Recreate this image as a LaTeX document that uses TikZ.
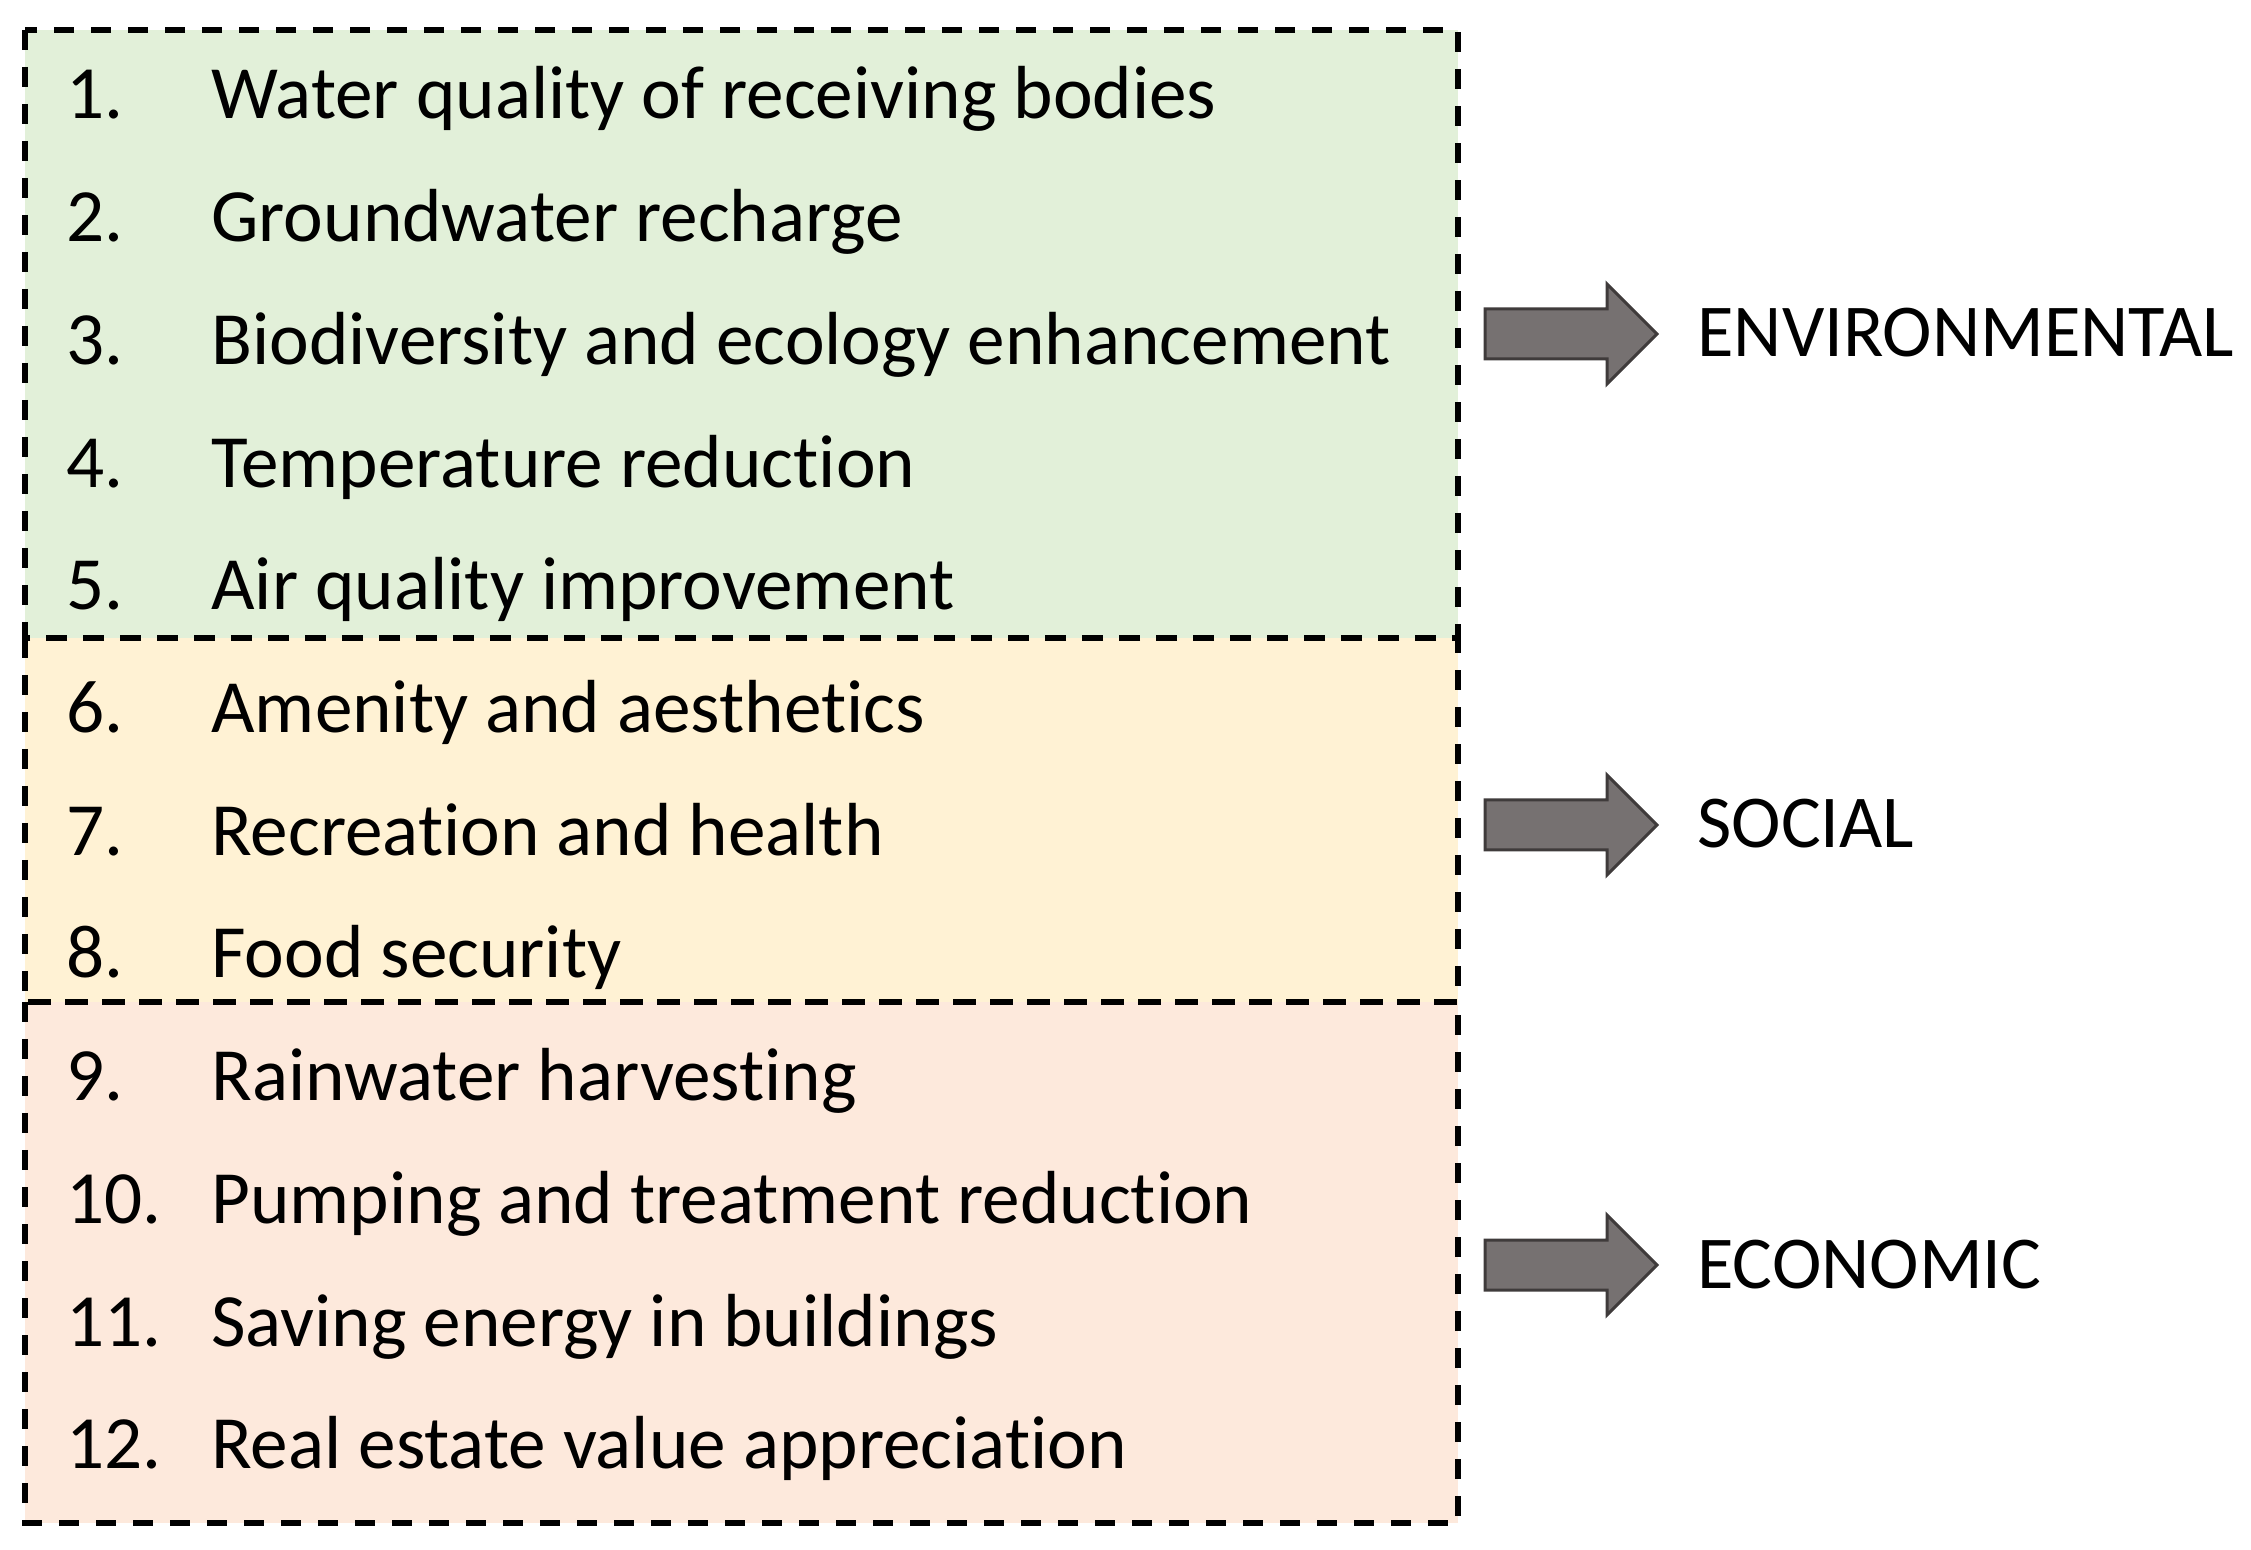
\documentclass[tikz,border=0pt]{standalone}
\usepackage{fontspec}
\setmainfont{Carlito}[Ligatures=NoCommon]
\definecolor{envfill}{HTML}{E2F0D9}
\definecolor{socfill}{HTML}{FFF2D4}
\definecolor{ecofill}{HTML}{FDE9DC}
\definecolor{arrfill}{HTML}{767171}
\definecolor{arrdraw}{HTML}{3F3B3B}
\tikzset{
  dashbox/.style={draw=black, line width=2.7pt, dash pattern=on 10pt off 8.5pt},
  numtxt/.style={anchor=base west, inner sep=0pt, font=\fontsize{37.6}{45}\selectfont},
  itemtxt/.style={anchor=base west, inner sep=0pt, font=\fontsize{37.6}{45}\selectfont},
  cattxt/.style={anchor=base west, inner sep=0pt, font=\fontsize{37.3}{45}\selectfont},
  blockarrow/.style={fill=arrfill, draw=arrdraw, line width=1.5pt, line join=miter}
}
\begin{document}
\begin{tikzpicture}[x=0.5pt, y=-0.5pt]
\useasboundingbox (0,0) rectangle (2251,1550);
% boxes
\fill[envfill] (25,30) rectangle (1458,638);
\fill[socfill] (25,638) rectangle (1458,1002);
\fill[ecofill] (25,1002) rectangle (1458,1523);
\draw[dashbox] (25,30) rectangle (1458,638);
\draw[dashbox] (25,638) rectangle (1458,1002);
\draw[dashbox] (25,1002) rectangle (1458,1523);
% items
\foreach \n/\t [count=\i from 0] in {
  1./Water quality of receiving bodies,
  2./Groundwater recharge,
  3./Biodiversity and ecology enhancement,
  4./Temperature reduction,
  5./Air quality improvement,
  6./Amenity and aesthetics,
  7./Recreation and health,
  8./Food security,
  9./Rainwater harvesting,
  10./Pumping and treatment reduction,
  11./Saving energy in buildings,
  12./Real estate value appreciation}{
  \node[numtxt] (n\i) at (66,{119+\i*122.7}) {\n};
  \node[itemtxt] (t\i) at (211,{119+\i*122.7}) {\t};
}
% arrows
\foreach \c/\nm in {334/a1, 825/a2, 1265/a3}{
  \draw[blockarrow] (1485,\c-25) -- (1607,\c-25) -- (1607,\c-50) -- (1657,\c)
     -- (1607,\c+50) -- (1607,\c+25) -- (1485,\c+25) -- cycle;
  \coordinate (\nm) at (1657,\c);
}
\node[cattxt] (env) at (1697,357) {ENVIRONMENTAL};
\node[cattxt] (soc) at (1697,848) {SOCIAL};
\node[cattxt] (eco) at (1697,1288) {ECONOMIC};
\end{tikzpicture}
\end{document}
